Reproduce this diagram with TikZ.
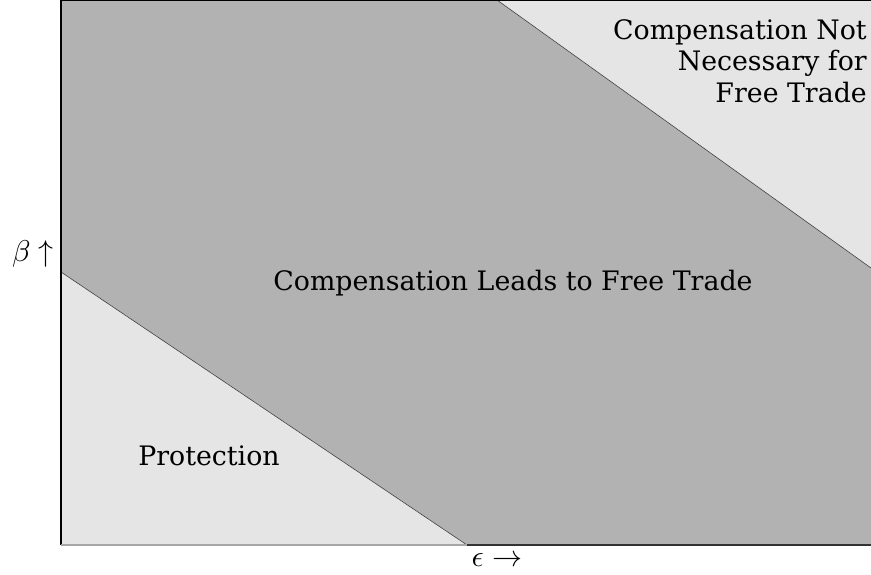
\documentclass[tikz,border=0pt]{standalone}
\usepackage{graphicx}
\usepackage{fontspec}
\setmainfont{DejaVu Serif}
\newcommand{\axissym}[1]{\scalebox{3}{$#1$}}
\begin{document}
\begin{tikzpicture}[x=1pt,y=-1pt,
  darkregion/.style={fill=black!30},
  lightregion/.style={fill=black!10},
  boundary/.style={draw=black!75,line width=0.6pt},
  axisline/.style={draw=black,line width=1.5pt},
  label/.style={inner sep=0pt,font=\fontsize{26.8}{31.5}\selectfont},
  axislabel/.style={inner sep=0pt,font=\normalsize}]
\useasboundingbox (0,0) rectangle (871,575);
% regions of the parameter space
\fill[darkregion] (61,0) rectangle (871,545);
\fill[lightregion] (61,272) -- (467,545) -- (61,545) -- cycle;
\fill[lightregion] (497,0) -- (871,268) -- (871,0) -- cycle;
% corner points of the frame and the two thresholds
\coordinate (tl) at (61,0);
\coordinate (tr) at (871,0);
\coordinate (bl) at (61,545);
\coordinate (br) at (871,545);
\coordinate (loA) at (61,272);
\coordinate (loB) at (467,545);
\coordinate (hiA) at (497,0);
\coordinate (hiB) at (871,268);
\draw[boundary] (loA) -- (loB);
\draw[boundary] (hiA) -- (hiB);
% frame
\draw[axisline] (bl) -- (tl) -- (tr);
\draw[draw=black!35,line width=1.2pt] (bl) -- (loB);
\draw[draw=black!80,line width=1.2pt] (loB) -- (br);
% region labels
\node[label,anchor=base] (mid) at (513,290) {Compensation Leads to Free Trade};
\node[label,anchor=base] (prot) at (209,465) {Protection};
\node[label,anchor=north east,align=right] (top) at (867,19) {Compensation Not\\Necessary for\\Free Trade};
% axis labels
\node[axislabel] (beta) at (33,254) {\axissym{\beta\uparrow}};
\node[axislabel] (eps) at (497,560) {\axissym{\epsilon\rightarrow}};
\end{tikzpicture}
\end{document}
